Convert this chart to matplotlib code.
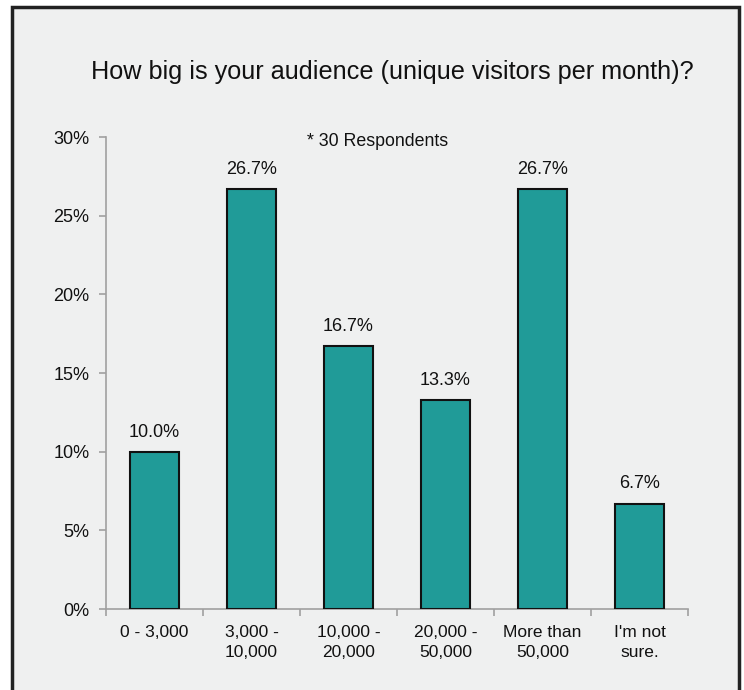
import matplotlib
matplotlib.use("Agg")
import matplotlib.pyplot as plt
from matplotlib.patches import Rectangle
from matplotlib.ticker import FixedLocator, NullFormatter

categories = ["0 - 3,000", "3,000 -\n10,000", "10,000 -\n20,000", "20,000 -\n50,000", "More than\n50,000", "I'm not\nsure."]
values = [10.0, 26.7, 16.7, 13.3, 26.7, 6.7]
value_labels = ["10.0%", "26.7%", "16.7%", "13.3%", "26.7%", "6.7%"]
yticks = [0, 5, 10, 15, 20, 25, 30]
ytick_labels = ["0%", "5%", "10%", "15%", "20%", "25%", "30%"]

plt.rcParams['font.family'] = ['Liberation Sans', 'DejaVu Sans']

W, H = 744, 690
fig = plt.figure(figsize=(W/100, H/100), dpi=100, facecolor='white')
bg = '#eff0f0'
fig.patches.append(Rectangle((12/W, -0.05), (739-12)/W, 1.05 - 7/H, transform=fig.transFigure,
                             facecolor=bg, edgecolor='#222222', linewidth=2.5, zorder=-10))

ax = fig.add_axes([106/W, (H-609)/H, (688-106)/W, (609-137)/H])
ax.set_zorder(5)
ax.set_facecolor('none')
x = list(range(len(categories)))
ax.bar(x, values, width=0.5, color='#209b98', edgecolor='#111111', linewidth=1.5, zorder=3)
ax.set_xlim(-0.5, len(categories) - 0.5)
ax.set_ylim(0, 30)
for xi, v, lab in zip(x, values, value_labels):
    ax.annotate(lab, (xi, v), xytext=(0, 8), textcoords='offset points', ha='center', va='bottom',
                fontsize=13, color='#111111')

ax.set_yticks(yticks)
ax.set_yticklabels(ytick_labels, fontsize=13, color='#111111')
ax.set_xticks(x)
ax.set_xticklabels(categories, fontsize=12.5, color='#111111', linespacing=1.45)
ax.tick_params(axis='x', length=0, pad=11.5)
ax.xaxis.set_minor_locator(FixedLocator([i - 0.5 for i in range(len(categories) + 1)]))
ax.xaxis.set_minor_formatter(NullFormatter())
ax.tick_params(axis='x', which='minor', length=5, color='#a0a0a0', width=1.2)
ax.tick_params(axis='y', length=5, color='#a0a0a0', width=1.2, pad=7)
for s in ['top', 'right']:
    ax.spines[s].set_visible(False)
for s in ['left', 'bottom']:
    ax.spines[s].set_color('#a0a0a0')
    ax.spines[s].set_linewidth(1.2)

fig.text(392/W, 1 - 72/H, "How big is your audience (unique visitors per month)?", ha='center', va='center',
         fontsize=18.2, color='#111111', zorder=6)
fig.text(378/W, 1 - 141/H, "* 30 Respondents", ha='center', va='center', fontsize=12.8, color='#111111', zorder=6)

fig.savefig("out.png", dpi=100, facecolor='white')
